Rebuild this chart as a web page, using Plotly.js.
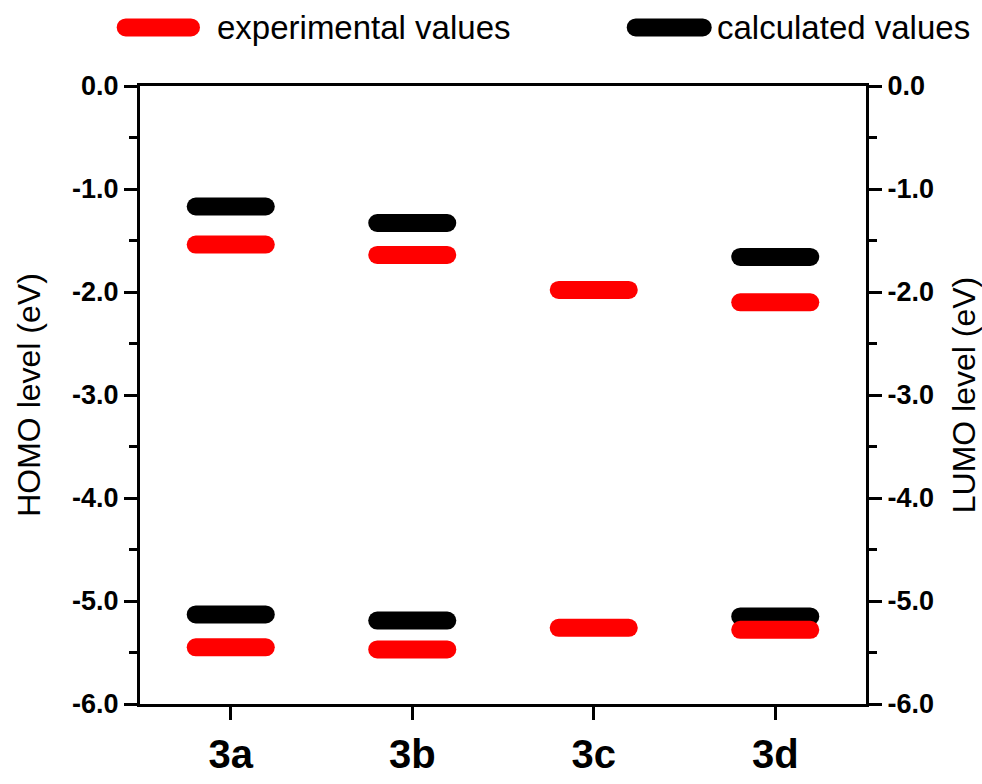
<!DOCTYPE html>
<html>
<head>
<meta charset="utf-8">
<script src="https://cdn.plot.ly/plotly-3.0.1.min.js"></script>
<style>
  html, body { margin: 0; padding: 0; background: #fff; }
  #chart { width: 982px; height: 784px; }
  /* rounded ends for the level bars and the legend keys */
  .js-line, .shapelayer path { stroke-linecap: round !important; }
</style>
</head>
<body>
<div id="chart"></div>
<script>
// Compounds
const categories = ['3a', '3b', '3c', '3d'];

// LUMO levels (eV), read on the right axis
const lumoExperimental = [-1.54, -1.64, -1.98, -2.10];
const lumoCalculated   = [-1.17, -1.33, null, -1.66];

// HOMO levels (eV), read on the left axis
const homoExperimental = [-5.45, -5.47, -5.26, -5.28];
const homoCalculated   = [-5.13, -5.19, null, -5.15];

// Energy axis ticks
const yTickVals = [0, -1, -2, -3, -4, -5, -6];
const yTickText = ['0.0', '-1.0', '-2.0', '-3.0', '-4.0', '-5.0', '-6.0'];

const seriesNames = ['experimental values', 'calculated values'];
const RED = '#ff0000';
const BLACK = '#000000';

// half length of a level bar, in category units
const HALF = 0.193;

// Short horizontal segments, one per compound
function segments(vals) {
  const xs = [], ys = [];
  vals.forEach((v, i) => {
    if (v === null || v === undefined) return;
    const c = i + 1;
    xs.push(c - HALF, c + HALF, null);
    ys.push(v, v, null);
  });
  return { xs, ys };
}

function levelTrace(vals, color, name, yaxis) {
  const s = segments(vals);
  return {
    x: s.xs, y: s.ys, type: 'scatter', mode: 'lines', yaxis: yaxis,
    name: name, connectgaps: false,
    line: { color: color, width: 18 }, hoverinfo: 'skip'
  };
}

// calculated first so the experimental bars sit on top where they overlap
const traces = [
  levelTrace(homoCalculated, BLACK, seriesNames[1], 'y'),
  levelTrace(homoExperimental, RED, seriesNames[0], 'y'),
  levelTrace(lumoCalculated, BLACK, seriesNames[1], 'y2'),
  levelTrace(lumoExperimental, RED, seriesNames[0], 'y2')
];

const FONT = 'Liberation Sans, Arial, sans-serif';

const yCommon = {
  range: [-6, 0],
  tickmode: 'array',
  tickvals: yTickVals,
  ticktext: yTickText,
  ticks: 'outside',
  ticklen: 13,
  tickwidth: 3,
  tickcolor: BLACK,
  minor: { tickmode: 'linear', tick0: 0, dtick: 0.5, ticks: 'outside', ticklen: 8, tickwidth: 3, tickcolor: BLACK, showgrid: false },
  showline: true,
  linewidth: 3,
  linecolor: BLACK,
  showgrid: false,
  zeroline: false,
  tickfont: { family: FONT, size: 27, color: BLACK, weight: 'bold' },
  fixedrange: true
};

const layout = {
  width: 982,
  height: 784,
  margin: { l: 140, r: 116, t: 86, b: 80 },
  paper_bgcolor: '#ffffff',
  plot_bgcolor: '#ffffff',
  showlegend: false,
  xaxis: {
    range: [0.5, 4.5],
    tickmode: 'array',
    tickvals: categories.map((_, i) => i + 1),
    ticktext: categories,
    ticks: 'outside',
    ticklen: 13,
    tickwidth: 3,
    tickcolor: BLACK,
    showline: true,
    mirror: true,
    linewidth: 3,
    linecolor: BLACK,
    showgrid: false,
    zeroline: false,
    tickfont: { family: FONT, size: 40, color: BLACK, weight: 'bold' },
    fixedrange: true
  },
  yaxis: Object.assign({}, yCommon, {
    side: 'left',
    title: { text: 'HOMO level (eV)', font: { family: FONT, size: 32, color: BLACK }, standoff: 22 }
  }),
  yaxis2: Object.assign({}, yCommon, {
    overlaying: 'y',
    side: 'right',
    anchor: 'x',
    title: { text: 'LUMO level (eV)', font: { family: FONT, size: 32, color: BLACK }, standoff: 22 }
  }),
  shapes: [
    { type: 'line', xref: 'paper', yref: 'paper', x0: -0.0197, x1: 0.0702, y0: 1.0947, y1: 1.0947,
      line: { color: RED, width: 18 } },
    { type: 'line', xref: 'paper', yref: 'paper', x0: 0.6828, x1: 0.7751, y0: 1.0947, y1: 1.0947,
      line: { color: BLACK, width: 18 } }
  ],
  annotations: [
    { xref: 'paper', yref: 'paper', x: 0.1033, y: 1.0947, xanchor: 'left', yanchor: 'middle',
      text: seriesNames[0], showarrow: false, font: { family: FONT, size: 33, color: BLACK } },
    { xref: 'paper', yref: 'paper', x: 0.7920, y: 1.0947, xanchor: 'left', yanchor: 'middle',
      text: seriesNames[1], showarrow: false, font: { family: FONT, size: 33, color: BLACK } }
  ]
};

Plotly.newPlot('chart', traces, layout, { displayModeBar: false, staticPlot: true });
</script>
</body>
</html>
